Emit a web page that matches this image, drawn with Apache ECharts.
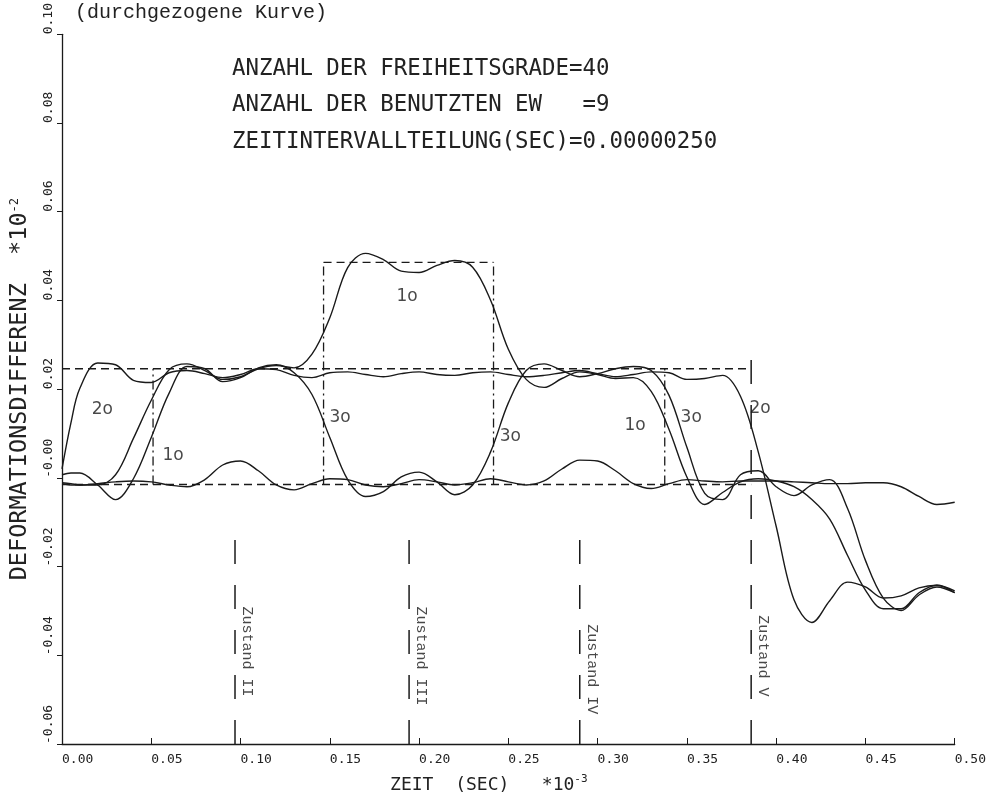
<!DOCTYPE html>
<html>
<head>
<meta charset="utf-8">
<script src="https://cdn.jsdelivr.net/npm/echarts/dist/echarts.min.js"></script>
<style>
html,body{margin:0;padding:0;background:#fff;}
#chart{width:989px;height:799px;}
</style>
</head>
<body>
<div id="chart"></div>
<script>
// ---- data (time in 10^-3 s, deformation difference in 10^-2) ----
const timeSec = [0, 0.005, 0.01, 0.02, 0.03, 0.04, 0.05, 0.06, 0.07, 0.08, 0.09, 0.10, 0.11, 0.12, 0.13, 0.14, 0.15, 0.16, 0.17, 0.18, 0.19, 0.20, 0.21, 0.22, 0.23, 0.24, 0.25, 0.26, 0.27, 0.28, 0.29, 0.30, 0.31, 0.32, 0.33, 0.34, 0.35, 0.36, 0.37, 0.38, 0.39, 0.40, 0.41, 0.42, 0.43, 0.44, 0.45, 0.46, 0.47, 0.48, 0.49, 0.50];

const curve1o = [-0.0013, -0.0016, -0.0016, -0.0016, 0.0007, 0.0089, 0.0175, 0.0244, 0.0257, 0.0242, 0.0222, 0.0228, 0.0246, 0.0253, 0.0248, 0.0279, 0.0361, 0.0474, 0.0506, 0.0492, 0.0466, 0.0463, 0.0479, 0.0490, 0.0475, 0.0401, 0.0290, 0.0222, 0.0204, 0.0224, 0.0239, 0.0233, 0.0224, 0.0226, 0.0195, 0.0109, 0.0002, -0.0060, -0.0033, -0.0009, -0.0002, -0.0007, -0.0020, -0.0049, -0.0093, -0.0175, -0.0253, -0.0295, -0.0295, -0.0259, -0.0242, -0.0255];

const curve2o = [0.0020, 0.0124, 0.0202, 0.0259, 0.0255, 0.0220, 0.0215, 0.0237, 0.0242, 0.0235, 0.0226, 0.0233, 0.0246, 0.0244, 0.0231, 0.0226, 0.0237, 0.0239, 0.0233, 0.0228, 0.0235, 0.0239, 0.0233, 0.0231, 0.0237, 0.0239, 0.0233, 0.0228, 0.0231, 0.0237, 0.0242, 0.0235, 0.0228, 0.0233, 0.0239, 0.0237, 0.0222, 0.0224, 0.0231, 0.0184, 0.0058, -0.0109, -0.0275, -0.0326, -0.0277, -0.0235, -0.0246, -0.0271, -0.0266, -0.0248, -0.0242, -0.0259];

const curve3o = [0.0007, 0.0011, 0.0011, -0.0016, -0.0049, -0.0002, 0.0091, 0.0191, 0.0251, 0.0246, 0.0217, 0.0226, 0.0248, 0.0255, 0.0237, 0.0188, 0.0091, -0.0004, -0.0042, -0.0031, 0.0002, 0.0013, -0.0009, -0.0038, -0.0016, 0.0058, 0.0169, 0.0242, 0.0257, 0.0242, 0.0228, 0.0235, 0.0246, 0.0251, 0.0242, 0.0186, 0.0069, -0.0035, -0.0049, 0.0007, 0.0016, -0.0020, -0.0040, -0.0016, -0.0004, -0.0069, -0.0186, -0.0271, -0.0299, -0.0264, -0.0246, -0.0259];

const curve4 = [-0.0011, -0.0013, -0.0016, -0.0013, -0.0009, -0.0007, -0.0009, -0.0016, -0.0020, -0.0004, 0.0029, 0.0038, 0.0016, -0.0016, -0.0027, -0.0013, -0.0002, -0.0004, -0.0016, -0.0020, -0.0013, -0.0004, -0.0009, -0.0016, -0.0011, -0.0002, -0.0009, -0.0016, -0.0007, 0.0020, 0.0040, 0.0038, 0.0016, -0.0013, -0.0024, -0.0013, -0.0004, -0.0007, -0.0009, -0.0007, -0.0007, -0.0007, -0.0009, -0.0011, -0.0013, -0.0013, -0.0011, -0.0011, -0.0020, -0.0042, -0.0060, -0.0055];

// exact (dashed) reference: [tStart, tEnd, level]
const refHorizontal = [[0, 0.386, 0.0246], [0, 0.386, -0.0015], [0.1465, 0.2417, 0.0486]];
// [t, levelFrom, levelTo]
const refVertical = [[0.051, -0.0015, 0.0246], [0.1465, -0.0015, 0.0486], [0.2417, -0.0015, 0.0486], [0.3376, -0.0015, 0.0246]];

// state boundaries: [t, bottom, top]
const zustandLines = [[0.0969, -0.06, -0.011], [0.1944, -0.06, -0.011], [0.2900, -0.06, -0.011], [0.3860, -0.06, 0.030]];
const zustandNames = ['Zustand II', 'Zustand III', 'Zustand IV', 'Zustand V'];
const zustandLabelTop = [-0.0290, -0.0290, -0.0330, -0.0310];

// curve annotations: [t, value, text]
const curveLabels = [[0.0226, 0.0153, '2o'], [0.0622, 0.0051, '1o'], [0.1933, 0.0408, '1o'], [0.1558, 0.0135, '3o'], [0.2511, 0.0093, '3o'], [0.3210, 0.0118, '1o'], [0.3524, 0.0137, '3o'], [0.3910, 0.0157, '2o']];

const xTickLabels = ['0.00', '0.05', '0.10', '0.15', '0.20', '0.25', '0.30', '0.35', '0.40', '0.45', '0.50'];
const yTickLabels = ['-0.06', '-0.04', '-0.02', '-0.00', '0.02', '0.04', '0.06', '0.08', '0.10'];

const headerLines = ['ANZAHL DER FREIHEITSGRADE=40', 'ANZAHL DER BENUTZTEN EW   =9', 'ZEITINTERVALLTEILUNG(SEC)=0.00000250'];

// ---- chart ----
const INK = '#1a1a1a';
const PLOT_FONT = 'DejaVu Sans Mono';
const chart = echarts.init(document.getElementById('chart'), null, {renderer: 'canvas'});

const series = [];
[curve1o, curve2o, curve3o, curve4].forEach((vals, i) => {
  series.push({
    type: 'line', name: 'c' + i, smooth: 0.35, symbol: 'none', silent: true,
    data: timeSec.map((t, k) => [t, vals[k]]),
    lineStyle: {color: INK, width: 1.4}
  });
});
refHorizontal.forEach(s => series.push({
  type: 'line', symbol: 'none', silent: true,
  data: [[s[0], s[2]], [s[1], s[2]]],
  lineStyle: {color: INK, width: 1.3, type: [8, 5]}
}));
refVertical.forEach(s => series.push({
  type: 'line', symbol: 'none', silent: true,
  data: [[s[0], s[1]], [s[0], s[2]]],
  lineStyle: {color: INK, width: 1.3, type: [9, 4, 2, 4]}
}));
zustandLines.forEach(s => series.push({
  type: 'line', symbol: 'none', silent: true,
  data: [[s[0], s[1]], [s[0], s[2]]],
  lineStyle: {color: INK, width: 1.5, type: [24, 21]}
}));
series.push({
  type: 'scatter', symbolSize: 0, silent: true,
  data: curveLabels.map(d => ({value: [d[0], d[1]], label: {formatter: d[2]}})),
  label: {show: true, position: 'inside', fontFamily: 'DejaVu Sans', fontSize: 17, color: INK}
});
series.push({
  type: 'scatter', symbolSize: 0, silent: true,
  data: zustandLines.map((z, i) => ({value: [z[0], zustandLabelTop[i]], label: {formatter: zustandNames[i]}})),
  label: {show: true, position: 'right', distance: 12, rotate: -90, align: 'left', verticalAlign: 'middle',
          fontFamily: 'Liberation Mono', fontSize: 15, color: INK}
});

const titleStyle = {fontFamily: PLOT_FONT, fontSize: 22.4, fontWeight: 'normal', color: '#222'};
const option = {
  animation: false,
  backgroundColor: '#fff',
  title: [
    {text: '(durchgezogene Kurve)', left: 70, top: -2, textStyle: {fontFamily: 'Liberation Mono', fontSize: 20, fontWeight: 'normal', color: '#222'}},
    {text: headerLines[0], left: 227, top: 53, textStyle: titleStyle},
    {text: headerLines[1], left: 227, top: 89, textStyle: titleStyle},
    {text: headerLines[2], left: 227, top: 126, textStyle: titleStyle}
  ],
  grid: {left: 52, right: 29, top: 30, bottom: 46, containLabel: false},
  xAxis: {
    type: 'value', min: 0, max: 0.5, interval: 0.05,
    axisLine: {onZero: false, lineStyle: {color: INK, width: 1.3}},
    axisTick: {inside: true, length: 6, lineStyle: {color: INK}},
    splitLine: {show: false},
    axisLabel: {
      margin: 9, align: 'left', color: '#222', fontFamily: PLOT_FONT, fontSize: 13,
      formatter: (v) => xTickLabels[Math.round(v / 0.05)]
    },
    name: '{b|ZEIT  (SEC)   *10}{s|-3}',
    nameLocation: 'middle', nameGap: 30,
    nameTextStyle: {
      padding: [0, 39, 0, 0],
      rich: {
        b: {fontFamily: PLOT_FONT, fontSize: 18, color: '#222', lineHeight: 20, verticalAlign: 'bottom'},
        s: {fontFamily: PLOT_FONT, fontSize: 11, color: '#222', lineHeight: 20, verticalAlign: 'top'}
      }
    }
  },
  yAxis: {
    type: 'value', min: -0.06, max: 0.10, interval: 0.02,
    axisLine: {show: true, onZero: false, lineStyle: {color: INK, width: 1.3}},
    axisTick: {show: true, inside: false, length: 5, lineStyle: {color: INK}},
    splitLine: {show: false},
    axisLabel: {
      margin: 7, rotate: 90, align: 'left', verticalAlign: 'bottom', color: '#222', fontFamily: PLOT_FONT, fontSize: 13,
      formatter: (v) => yTickLabels[Math.round((v + 0.06) / 0.02)]
    },
    name: '{b|DEFORMATIONSDIFFERENZ  *10}{s|-2}',
    nameLocation: 'middle', nameRotate: 90, nameGap: 30,
    nameTextStyle: {
      rich: {
        b: {fontFamily: PLOT_FONT, fontSize: 23.5, color: '#222', lineHeight: 23, verticalAlign: 'bottom'},
        s: {fontFamily: PLOT_FONT, fontSize: 12, color: '#222', lineHeight: 23, verticalAlign: 'top'}
      }
    }
  },
  series: series
};
chart.setOption(option);
</script>
</body>
</html>
